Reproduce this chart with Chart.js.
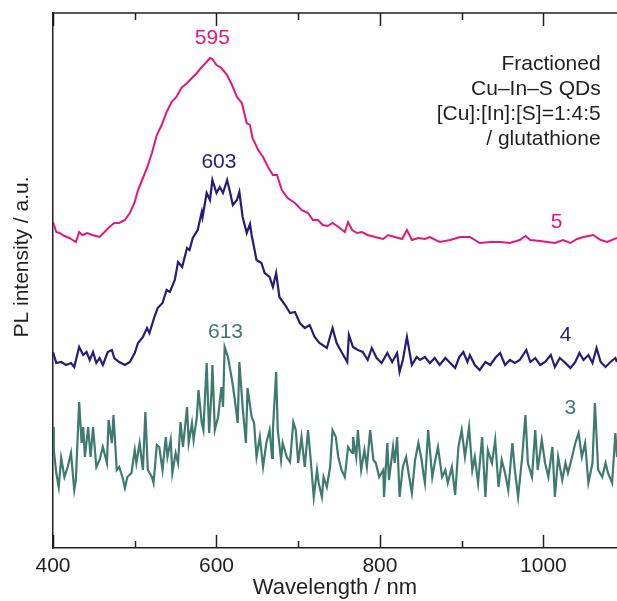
<!DOCTYPE html>
<html>
<head>
<meta charset="utf-8">
<script src="https://cdn.jsdelivr.net/npm/chart.js@4.4.0/dist/chart.umd.min.js"></script>
<style>
  html, body { margin: 0; padding: 0; background: #fff; overflow: hidden; }
  #wrap { width: 617px; height: 601px; }
</style>
</head>
<body>
<div id="wrap"><canvas id="plChart"></canvas></div>
<script>
// spectra (wavelength in nm, PL intensity in a.u., offset per curve)
const wl5 = [400,404,408,414,420,428,432,436,442,448,457,463,469,475,481,488,494,500,504,508,515,521,527,533,539,545,551,557,564,570,576,582,588,592,595,600,606,613,619,625,631,637,641,644,651,657,663,669,674,680,687,696,704,712,718,724,730,736,742,751,757,761,766,772,778,785,794,804,810,818,827,833,839,847,855,861,873,886,898,910,922,935,947,959,971,978,984,996,1005,1014,1024,1033,1041,1049,1061,1070,1078,1090];
const pl5 = [326,316,315,312,310,306,316,313,315,313,311,316,321,325,325,328,335,346,358,366,380,395,413,423,436,446,451,460,465,470,475,481,486,490,489,483,480,473,463,451,445,425,423,410,398,391,381,373,373,358,350,345,338,335,328,328,323,322,325,320,316,326,318,315,316,313,311,309,313,311,309,318,308,310,309,311,306,308,311,311,305,306,306,305,308,312,308,307,306,305,308,305,309,311,313,308,306,310];

const wl4 = [400,404,410,416,422,426,432,437,441,445,449,453,457,461,467,472,475,481,488,494,500,504,510,515,518,524,528,534,539,543,549,553,558,564,567,571,577,582,583,588,592,595,600,604,608,613,616,620,625,628,632,637,641,643,649,655,659,665,669,673,677,684,690,696,702,708,714,720,726,735,742,747,753,760,762,767,773,779,785,790,796,802,809,815,821,824,828,833,839,845,849,855,861,867,873,880,886,892,897,902,907,910,916,922,929,935,941,947,953,959,965,971,979,984,990,996,1002,1009,1014,1020,1027,1033,1039,1044,1049,1055,1060,1065,1070,1076,1082,1088,1090];
const pl4 = [196,185,186,183,185,181,201,193,196,188,196,185,190,183,196,198,190,186,183,186,195,205,211,220,215,231,240,245,258,256,268,286,281,300,298,310,318,336,331,355,348,368,355,361,355,368,358,343,348,356,331,315,324,313,288,285,275,271,261,275,251,243,235,236,225,220,223,211,205,200,220,205,196,186,213,201,198,196,188,200,190,185,195,186,195,176,188,211,183,191,188,191,185,190,183,190,185,180,191,196,186,193,183,178,186,183,190,195,183,188,185,188,198,186,190,183,186,193,181,190,185,180,186,195,188,193,185,200,186,181,186,190,186];

const wl3 = [400,401,404,407,410,414,418,422,426,428,432,435,437,439,443,446,449,453,457,461,466,468,472,474,478,481,485,488,491,496,500,502,506,510,513,516,521,523,527,530,534,538,540,544,546,550,553,556,559,564,566,570,572,576,578,582,584,588,591,594,595,598,602,606,608,610,614,619,622,626,628,632,636,638,643,646,649,653,657,661,665,668,669,673,675,679,681,686,690,694,697,700,704,708,712,715,719,723,725,729,731,735,739,742,746,749,753,757,761,766,767,771,773,777,781,784,788,792,795,799,804,805,809,811,816,818,821,824,828,832,835,839,843,847,851,853,855,859,864,867,871,876,880,883,888,892,896,900,904,909,913,916,920,925,929,932,937,941,945,949,953,957,962,965,969,974,978,981,986,990,993,998,1002,1006,1011,1014,1018,1023,1027,1030,1035,1039,1043,1047,1051,1055,1060,1063,1067,1072,1076,1079,1084,1088,1090];
const pl3 = [121,98,75,61,90,71,81,95,58,68,146,105,121,91,121,91,121,81,88,101,85,128,105,133,78,81,71,60,71,75,98,85,105,78,136,78,71,65,103,101,78,111,91,108,75,95,85,126,101,141,105,125,108,131,158,125,118,185,115,158,183,118,131,161,141,201,191,168,151,125,186,141,105,160,131,125,91,111,81,105,118,90,118,176,118,88,105,91,86,126,118,85,111,81,118,91,51,78,65,51,71,61,81,118,111,91,78,71,101,95,111,91,118,78,98,81,118,88,85,71,78,51,105,68,101,85,111,51,81,91,75,55,88,105,88,75,65,118,71,85,101,71,78,65,81,53,101,118,91,121,78,91,65,111,51,98,85,108,61,88,75,58,105,78,51,91,133,85,71,118,78,108,85,71,101,51,91,68,85,75,91,105,115,91,105,65,85,145,78,71,85,75,65,115,91];

const xTickLabels = [400, 600, 800, 1000];
const xMinorTicks = [500, 700, 900];

const ink = '#231f20';
const magenta = '#e5177b';
const navy = '#2b1a78';
const teal = '#3e7a6d';
const fontFamily = '"Liberation Sans", Arial, sans-serif';

function pts(wl, pl) {
    return wl.map((w, i) => ({ x: w, y: pl[i] }));
}

// inward tick marks, top frame line, curve labels and the note text
const decorations = {
    id: 'decorations',
    afterDatasetsDraw(chart) {
        const { ctx, chartArea, scales } = chart;
        const xs = scales.x, ys = scales.y;
        ctx.save();
        ctx.strokeStyle = ink;
        ctx.lineWidth = 1.5;
        // top frame
        ctx.beginPath();
        ctx.moveTo(chartArea.left, chartArea.top);
        ctx.lineTo(chartArea.right, chartArea.top);
        ctx.stroke();
        const drawTick = (v, len) => {
            const px = Math.round(xs.getPixelForValue(v)) + 0.5;
            ctx.beginPath();
            ctx.moveTo(px, chartArea.bottom);
            ctx.lineTo(px, chartArea.bottom - len);
            ctx.moveTo(px, chartArea.top);
            ctx.lineTo(px, chartArea.top + len);
            ctx.stroke();
        };
        xTickLabels.forEach(v => drawTick(v, 13));
        xMinorTicks.forEach(v => drawTick(v, 7));

        ctx.font = '21px ' + fontFamily;
        ctx.textAlign = 'center';
        ctx.textBaseline = 'middle';
        const label = (text, color, x, y) => {
            ctx.fillStyle = color;
            ctx.fillText(text, xs.getPixelForValue(x), ys.getPixelForValue(y));
        };
        label('595', magenta, 595, 510);
        label('603', navy, 603, 386);
        label('613', teal, 611, 216);
        label('5', magenta, 1016, 326);
        label('4', navy, 1027, 213);
        label('3', teal, 1033, 140);

        ctx.textAlign = 'right';
        ctx.fillStyle = ink;
        const noteX = xs.getPixelForValue(1070);
        ['Fractioned', 'Cu\u2013In\u2013S QDs', '[Cu]:[In]:[S]=1:4:5', '/ glutathione'].forEach((t, i) => {
            ctx.fillText(t, noteX, ys.getPixelForValue(484 - i * 25));
        });

        // y axis title
        ctx.translate(22, 257);
        ctx.rotate(-Math.PI / 2);
        ctx.textAlign = 'center';
        ctx.fillText('PL intensity / a.u.', 0, 0);
        ctx.restore();
    }
};

document.addEventListener('DOMContentLoaded', () => {
    const ctx = document.getElementById('plChart').getContext('2d');
    new Chart(ctx, {
        type: 'scatter',
        data: {
            datasets: [
                { label: '5', data: pts(wl5, pl5), borderColor: magenta, borderWidth: 2 },
                { label: '4', data: pts(wl4, pl4), borderColor: navy, borderWidth: 2.2 },
                { label: '3', data: pts(wl3, pl3), borderColor: teal, borderWidth: 2.2 }
            ].map(d => Object.assign(d, { showLine: true, pointRadius: 0, tension: 0, fill: false }))
        },
        options: {
            responsive: true,
            maintainAspectRatio: false,
            animation: false,
            layout: { padding: { top: 13, right: 0, left: 0, bottom: 0 } },
            plugins: {
                legend: { display: false },
                tooltip: { enabled: false }
            },
            scales: {
                x: {
                    type: 'linear',
                    min: 400,
                    max: 1090,
                    grid: { display: false, drawTicks: false },
                    border: { display: true, color: ink, width: 1.5 },
                    afterBuildTicks: s => { s.ticks = xTickLabels.map(v => ({ value: v })); },
                    ticks: {
                        padding: 6,
                        color: ink,
                        font: { family: fontFamily, size: 21 },
                        callback: v => String(v)
                    },
                    title: {
                        display: true,
                        text: 'Wavelength / nm',
                        color: ink,
                        padding: { top: 0, bottom: 0 },
                        font: { family: fontFamily, size: 22 }
                    },
                    afterFit: s => { s.height = 53; }
                },
                y: {
                    min: 0,
                    max: 535,
                    grid: { display: false, drawTicks: false },
                    border: { display: true, color: ink, width: 1.5 },
                    ticks: { display: false },
                    afterFit: s => { s.width = 53; }
                }
            }
        },
        plugins: [decorations]
    });
});
</script>
</body>
</html>
